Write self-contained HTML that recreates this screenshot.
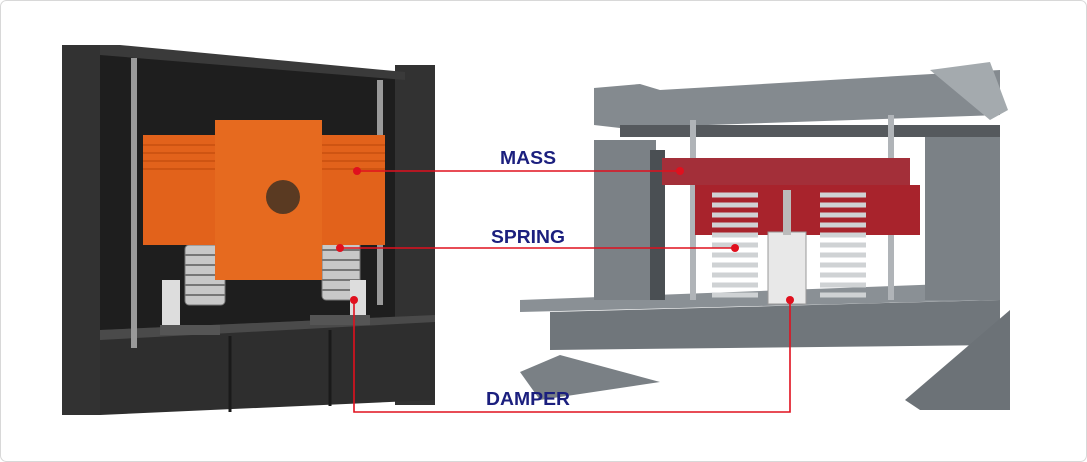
<!DOCTYPE html>
<html><head><meta charset="utf-8"><style>
html,body{margin:0;padding:0;background:#fff}
svg{display:block}
text{font-family:"Liberation Sans",sans-serif;font-weight:bold;fill:#1b1f7e}
</style></head><body>
<svg width="1087" height="462" viewBox="0 0 1087 462" xmlns="http://www.w3.org/2000/svg">
<rect x="0.5" y="0.5" width="1086" height="461" rx="6" fill="#fff" stroke="#d8d8d8"/>
<!-- LEFT unit -->
<polygon points="62,45 100,45 100,50 405,75 405,320 62,360" fill="#1e1e1e"/>
<rect x="62" y="45" width="38" height="370" fill="#323232"/>
<rect x="395" y="65" width="40" height="340" fill="#323232"/>
<polygon points="100,45 120,45 405,72 405,80 100,55" fill="#3a3a3a"/>
<polygon points="100,330 435,315 435,400 100,415" fill="#2e2e2e"/>
<polygon points="100,330 435,315 435,322 100,340" fill="#4a4a4a"/>
<line x1="230" y1="336" x2="230" y2="412" stroke="#1a1a1a" stroke-width="3"/>
<line x1="330" y1="330" x2="330" y2="406" stroke="#1a1a1a" stroke-width="3"/>
<rect x="131" y="58" width="6" height="290" fill="#9a9a9a"/>
<rect x="377" y="80" width="6" height="225" fill="#9a9a9a"/>
<g fill="#c8c8c8" stroke="#777" stroke-width="1">
<rect x="185" y="245" width="40" height="60" rx="4"/>
<rect x="322" y="240" width="38" height="60" rx="4"/>
</g>
<g stroke="#777" stroke-width="2">
<line x1="185" y1="255" x2="225" y2="255"/><line x1="185" y1="265" x2="225" y2="265"/><line x1="185" y1="275" x2="225" y2="275"/><line x1="185" y1="285" x2="225" y2="285"/><line x1="185" y1="295" x2="225" y2="295"/>
<line x1="322" y1="250" x2="360" y2="250"/><line x1="322" y1="260" x2="360" y2="260"/><line x1="322" y1="270" x2="360" y2="270"/><line x1="322" y1="280" x2="360" y2="280"/><line x1="322" y1="290" x2="360" y2="290"/>
</g>
<rect x="162" y="280" width="18" height="50" fill="#ddd"/>
<rect x="350" y="280" width="16" height="45" fill="#ddd"/>
<rect x="160" y="325" width="60" height="10" fill="#555"/>
<rect x="310" y="315" width="60" height="10" fill="#555"/>
<rect x="143" y="135" width="242" height="110" fill="#e2621b"/>
<rect x="215" y="120" width="107" height="160" fill="#e66a1f"/>
<g stroke="#c85010" stroke-width="1.5">
<line x1="143" y1="145" x2="215" y2="145"/><line x1="143" y1="153" x2="215" y2="153"/><line x1="143" y1="161" x2="215" y2="161"/><line x1="143" y1="169" x2="215" y2="169"/>
<line x1="322" y1="145" x2="385" y2="145"/><line x1="322" y1="153" x2="385" y2="153"/><line x1="322" y1="161" x2="385" y2="161"/><line x1="322" y1="169" x2="385" y2="169"/>
</g>
<circle cx="283" cy="197" r="17" fill="#5a3a22"/>
<!-- RIGHT unit -->
<polygon points="520,300 1000,282 1000,300 520,312" fill="#8a9095"/>
<polygon points="550,312 1000,300 1000,345 550,350" fill="#70767b"/>
<polygon points="520,372 560,355 660,382 540,400" fill="#7a8085"/>
<polygon points="905,400 1010,310 1010,410 920,410" fill="#6c7277"/>
<rect x="594" y="140" width="62" height="160" fill="#7b8186"/>
<rect x="650" y="150" width="15" height="150" fill="#4a4f53"/>
<rect x="925" y="130" width="75" height="170" fill="#7b8186"/>
<polygon points="594,88 640,84 660,90 1000,70 1000,115 620,128 594,125" fill="#848a8f"/>
<polygon points="930,70 990,62 1008,110 990,120" fill="#a4aaae"/>
<rect x="620" y="125" width="380" height="12" fill="#55595d"/>
<rect x="690" y="120" width="6" height="180" fill="#b0b4b8"/>
<rect x="888" y="115" width="6" height="185" fill="#b0b4b8"/>
<rect x="695" y="185" width="225" height="50" fill="#a8232c"/>
<rect x="662" y="158" width="248" height="27" fill="#a32f39"/>
<g fill="none" stroke="#cfd2d4" stroke-width="5">
<path d="M712,195h46M712,205h46M712,215h46M712,225h46M712,235h46M712,245h46M712,255h46M712,265h46M712,275h46M712,285h46M712,295h46"/>
<path d="M820,195h46M820,205h46M820,215h46M820,225h46M820,235h46M820,245h46M820,255h46M820,265h46M820,275h46M820,285h46M820,295h46"/>
</g>
<rect x="768" y="232" width="38" height="72" fill="#e8e8e8" stroke="#999"/>
<rect x="783" y="190" width="8" height="45" fill="#bbb"/>
<g stroke="#e0101e" stroke-width="1.6" fill="none">
<line x1="357" y1="171" x2="680" y2="171"/>
<line x1="340" y1="248" x2="735" y2="248"/>
<polyline points="354,300 354,412 790,412 790,300"/>
</g>
<g fill="#e0101e">
<circle cx="357" cy="171" r="4"/><circle cx="680" cy="171" r="4"/>
<circle cx="340" cy="248" r="4"/><circle cx="735" cy="248" r="4"/>
<circle cx="354" cy="300" r="4"/><circle cx="790" cy="300" r="4"/>
</g>
<text x="528" y="164" font-size="18" text-anchor="middle" textLength="56" lengthAdjust="spacingAndGlyphs">MASS</text>
<text x="528" y="243" font-size="18" text-anchor="middle" textLength="74" lengthAdjust="spacingAndGlyphs">SPRING</text>
<text x="528" y="405" font-size="18" text-anchor="middle" textLength="84" lengthAdjust="spacingAndGlyphs">DAMPER</text>
</svg>
</body></html>
